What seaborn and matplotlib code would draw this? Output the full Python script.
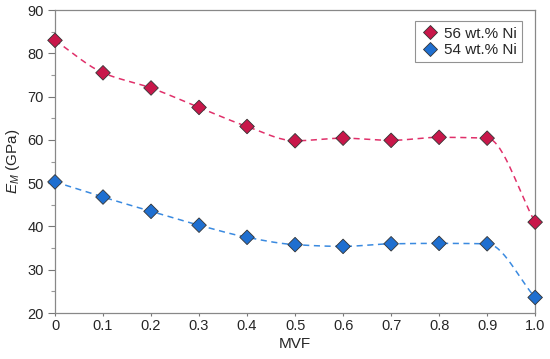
import numpy as np
import pandas as pd
import matplotlib
matplotlib.use("Agg")
import matplotlib.pyplot as plt
import seaborn as sns
from matplotlib.ticker import MultipleLocator

# ---------------- Data ----------------
mvf = [0.0, 0.1, 0.2, 0.3, 0.4, 0.5, 0.6, 0.7, 0.8, 0.9, 1.0]
em_56 = [83.0, 75.5, 72.0, 67.5, 63.1, 59.8, 60.4, 59.9, 60.6, 60.4, 41.0]
em_54 = [50.3, 46.8, 43.5, 40.3, 37.5, 35.8, 35.4, 36.0, 36.1, 36.0, 23.6]
series_names = ["56 wt.% Ni", "54 wt.% Ni"]

marker_colors = ["#c8174a", "#1f6fd0"]
line_colors = ["#e0306a", "#3a8ae0"]


def pchip(x, y, n=300):
    # monotone cubic hermite curve through the points (dashed trend line)
    x = np.asarray(x, float)
    y = np.asarray(y, float)
    h = np.diff(x)
    delta = np.diff(y) / h
    d = np.zeros_like(y)
    for i in range(1, len(x) - 1):
        if delta[i - 1] * delta[i] > 0:
            w1 = 2 * h[i] + h[i - 1]
            w2 = h[i] + 2 * h[i - 1]
            d[i] = (w1 + w2) / (w1 / delta[i - 1] + w2 / delta[i])
    d[0] = delta[0]
    d[-1] = delta[-1]
    xs = np.linspace(x[0], x[-1], n)
    idx = np.clip(np.searchsorted(x, xs) - 1, 0, len(x) - 2)
    t = (xs - x[idx]) / h[idx]
    h00 = 2 * t ** 3 - 3 * t ** 2 + 1
    h10 = t ** 3 - 2 * t ** 2 + t
    h01 = -2 * t ** 3 + 3 * t ** 2
    h11 = t ** 3 - t ** 2
    ys = (h00 * y[idx] + h10 * h[idx] * d[idx]
          + h01 * y[idx + 1] + h11 * h[idx] * d[idx + 1])
    return xs, ys


df = pd.DataFrame({
    "MVF": mvf * 2,
    "EM": em_56 + em_54,
    "Alloy": [series_names[0]] * len(mvf) + [series_names[1]] * len(mvf),
})

sns.set_style("white")
plt.rcParams["font.family"] = ["Liberation Sans", "DejaVu Sans"]
plt.rcParams["mathtext.fontset"] = "custom"
plt.rcParams["mathtext.it"] = "Liberation Sans:italic"
plt.rcParams["mathtext.rm"] = "Liberation Sans"

fig = plt.figure(figsize=(5.5, 3.59), dpi=100)
ax = fig.add_axes([0.1, 0.128, 0.873, 0.844])

for name, vals, lc in zip(series_names, [em_56, em_54], line_colors):
    xs, ys = pchip(mvf, vals)
    ax.plot(xs, ys, color=lc, linestyle=(0, (4, 3)), linewidth=1.1, zorder=2)

sns.scatterplot(data=df, x="MVF", y="EM", hue="Alloy", palette=marker_colors,
                marker="D", s=55, edgecolor="#333333", linewidth=0.6,
                ax=ax, zorder=3, clip_on=False)

ax.set_xlim(0, 1.0)
ax.set_ylim(20, 90)
ax.set_xticks(mvf)
ax.set_xticklabels(["0", "0.1", "0.2", "0.3", "0.4", "0.5", "0.6", "0.7", "0.8", "0.9", "1.0"])
ax.yaxis.set_major_locator(MultipleLocator(10))
ax.yaxis.set_minor_locator(MultipleLocator(5))
ax.tick_params(axis="y", which="major", direction="out", length=5, width=0.8,
               color="#777777", labelsize=10.5, pad=3, left=True)
ax.tick_params(axis="x", which="major", direction="out", length=2, width=0.8,
               color="#777777", labelsize=10.5, pad=2, bottom=True)
ax.tick_params(axis="y", which="minor", direction="out", length=3, width=0.8,
               color="#999999", left=True)
for sp in ax.spines.values():
    sp.set_color("#888888")
    sp.set_linewidth(0.9)

ax.set_xlabel("MVF", fontsize=11, labelpad=3)
ax.set_ylabel("$E_M$ (GPa)", fontsize=11, labelpad=4)

leg = ax.legend(loc="upper right", fontsize=11, frameon=True, fancybox=False,
                handletextpad=0.3, borderpad=0.35, handlelength=1.2,
                labelspacing=0.15, bbox_to_anchor=(0.988, 0.988))
leg.get_frame().set_edgecolor("#777777")
leg.get_frame().set_linewidth(0.8)

fig.savefig("out.png", dpi=100)
